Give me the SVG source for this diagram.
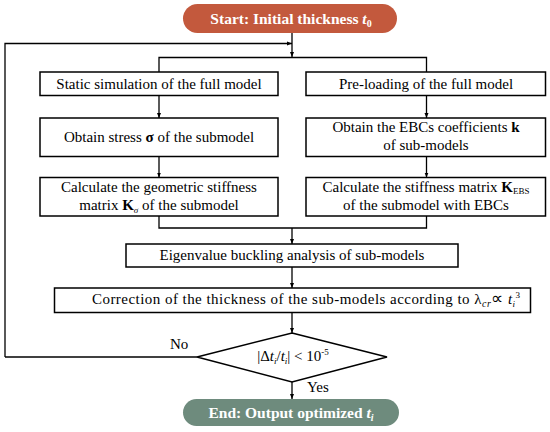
<svg xmlns="http://www.w3.org/2000/svg" width="550" height="432" viewBox="0 0 550 432">
<style>
text{font-family:"Liberation Serif","Times New Roman",serif;font-size:15px;fill:#000}
.c{text-anchor:middle}
.term{font-weight:bold;font-size:15.5px;fill:#fff}
.box{fill:#fff;stroke:#000;stroke-width:1.5}
.ln{fill:none;stroke:#000;stroke-width:1.3}
.b{font-weight:bold}
.i{font-style:italic}
</style>
<defs>
<marker id="ah" viewBox="0 0 10 10" refX="10" refY="5" markerWidth="5" markerHeight="5" orient="auto" markerUnits="userSpaceOnUse">
<path d="M0,1 L10,5 L0,9 z" fill="#000"/>
</marker>
</defs>
<rect width="550" height="432" fill="#fff"/>
<g id="connectors">
<path class="ln" d="M292,33 V57" marker-end="url(#ah)"/>
<path class="ln" d="M5,357 V43.5 H292" marker-end="url(#ah)"/>
<path class="ln" d="M197,357 H5"/>
<path class="ln" d="M159,72 V57.5 H426.5 V72"/>
<path class="ln" d="M159,95.5 V118" marker-end="url(#ah)"/>
<path class="ln" d="M426.5,95.5 V118" marker-end="url(#ah)"/>
<path class="ln" d="M159,156.5 V177.5" marker-end="url(#ah)"/>
<path class="ln" d="M426.5,156.5 V177.5" marker-end="url(#ah)"/>
<path class="ln" d="M159,216 V228 H426.5 V216"/>
<path class="ln" d="M292,228 V244" marker-end="url(#ah)"/>
<path class="ln" d="M292,267 V288" marker-end="url(#ah)"/>
<path class="ln" d="M292,312.5 V333" marker-end="url(#ah)"/>
<path class="ln" d="M292,382 V399" marker-end="url(#ah)"/>
<text x="170" y="349">No</text>
<text x="307" y="392">Yes</text>
</g>
<g id="start">
<rect x="183" y="4" width="214" height="29" rx="14.5" fill="#C3593D"/>
<text class="c term" x="291" y="24">Start: Initial thickness <tspan class="i">t</tspan><tspan font-size="10" dy="3">0</tspan></text>
</g>
<g id="static">
<rect class="box" x="40" y="72" width="238" height="23.5"/>
<text class="c" x="159" y="89">Static simulation of the full model</text>
</g>
<g id="preload">
<rect class="box" x="306" y="72" width="239.5" height="23.5"/>
<text class="c" x="426" y="89">Pre-loading of the full model</text>
</g>
<g id="stress">
<rect class="box" x="40" y="118" width="238" height="38.5"/>
<text class="c" x="159" y="142">Obtain stress <tspan class="b">σ</tspan> of the submodel</text>
</g>
<g id="ebc">
<rect class="box" x="306" y="118" width="239.5" height="38.5"/>
<text class="c" x="426" y="131.5">Obtain the EBCs coefficients <tspan class="b">k</tspan></text>
<text class="c" x="426" y="149.5">of sub-models</text>
</g>
<g id="geom">
<rect class="box" x="40" y="177.5" width="238" height="38.5"/>
<text class="c" x="159" y="192">Calculate the geometric stiffness</text>
<text class="c" x="159" y="210">matrix <tspan class="b">K</tspan><tspan class="i" font-size="9" dy="3">σ</tspan><tspan dy="-3"> of the submodel</tspan></text>
</g>
<g id="kebs">
<rect class="box" x="306" y="177.5" width="239.5" height="38.5"/>
<text class="c" x="426" y="192">Calculate the stiffness matrix <tspan class="b">K</tspan><tspan font-size="9" dy="2">EBS</tspan></text>
<text class="c" x="426" y="210">of the submodel with EBCs</text>
</g>
<g id="eigen">
<rect class="box" x="126" y="244" width="332" height="23"/>
<text class="c" x="292" y="260">Eigenvalue buckling analysis of sub-models</text>
</g>
<g id="correction">
<rect class="box" x="54.5" y="288" width="476" height="24.5"/>
<text x="92" y="304" textLength="428" lengthAdjust="spacing">Correction of the thickness of the sub-models according to λ<tspan class="i" font-size="10" dy="3">cr</tspan><tspan dy="-3" font-size="17">∝</tspan><tspan class="i"> t</tspan><tspan class="i" font-size="9" dy="3">i</tspan><tspan font-size="9" dy="-9">3</tspan></text>
</g>
<g id="check">
<path class="box" d="M292,333 L387,357 L292,382 L197,357 Z"/>
<text class="c" x="293" y="361">|Δ<tspan class="i">t</tspan><tspan class="i" font-size="9" dy="3">i</tspan><tspan dy="-3">/</tspan><tspan class="i">t</tspan><tspan class="i" font-size="9" dy="3">i</tspan><tspan dy="-3">| &lt; 10</tspan><tspan font-size="9" dy="-6">-5</tspan></text>
</g>
<g id="end">
<rect x="183" y="399" width="216" height="27" rx="13.5" fill="#6E8B7D"/>
<text class="c term" x="291" y="418">End: Output optimized <tspan class="i">t</tspan><tspan class="i" font-size="10" dy="3">i</tspan></text>
</g>
</svg>
